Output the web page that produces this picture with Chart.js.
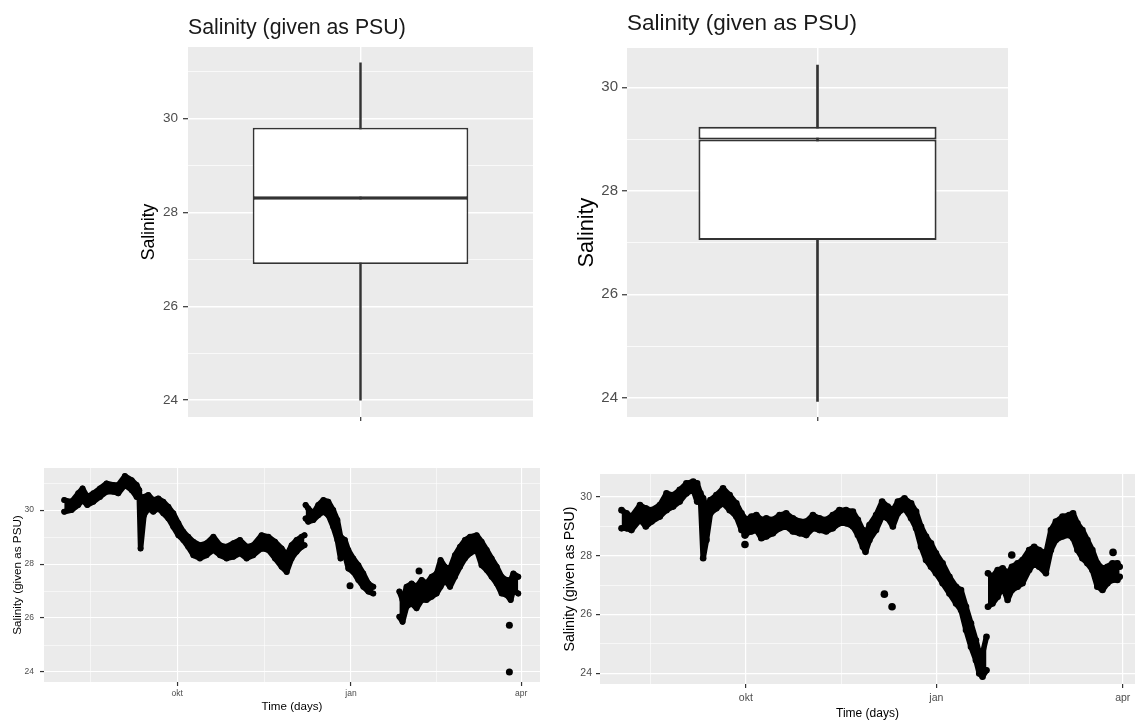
<!DOCTYPE html>
<html>
<head>
<meta charset="utf-8">
<title>Salinity</title>
<script src="https://cdn.jsdelivr.net/npm/chart.js@4.4.1/dist/chart.umd.min.js"></script>
<style>
  html, body { margin: 0; padding: 0; background: #ffffff; overflow: hidden; }
  #page { position: relative; width: 1139px; height: 724px; }
  canvas { position: absolute; }
</style>
</head>
<body>
<div id="page">
  <canvas id="boxLeft" width="430" height="440" style="left:120px;top:0px"></canvas>
  <canvas id="boxRight" width="579" height="440" style="left:560px;top:0px"></canvas>
  <canvas id="seriesLeft" width="560" height="284" style="left:0px;top:440px"></canvas>
  <canvas id="seriesRight" width="579" height="284" style="left:560px;top:440px"></canvas>
</div>
<script>
// Box plot summaries: [min, q1, median, q3, max]
const leftBoxStats = [24.0, 26.90, 28.31, 29.81, 31.19];
const rightBoxStats = [23.93, 27.05, 28.99, 29.24, 30.43];
const boxCategory = [''];

// Salinity axis ticks (labelled / unlabelled)
const salinityMajor = [24, 26, 28, 30];
const salinityMinor = [25, 27, 29, 31];

// Time axis, in days counted from 1 January
const monthTickDays = [-92, 0, 90];
const monthTickLabels = ['okt', 'jan', 'apr'];
const midTickDays = [-138, -46, 45];

// Logger 1: upper and lower edge of the readings per day (null = no data)
const leftDays = [
  -151.7, -147.8, -144.3, -142.0, -139.5, -136.3, -132.8, -129.3, -125.7, -123.1,
  -119.6, -116.0, -113.4, -112.0, -111.3, -109.5, -107.2, -104.6, -101.9, -99.3,
  -96.6, -94.0, -91.3, -88.7, -86.1, -83.4, -79.9, -76.4, -72.8, -69.3,
  -65.8, -62.2, -58.7, -55.2, -51.7, -47.3, -43.7, -40.2, -36.7, -34.0,
  -31.4, -28.8, -26.1, -24.6, -24.3, -24.0, -22.6, -19.9, -17.3, -14.6,
  -12.0, -9.4, -7.2, -5.5, -3.2, -1.4, 1.2, 3.9, 6.5, 9.2,
  11.8, 18.0, 25.6, 27.3, 29.4, 32.1, 34.7, 37.4, 40.0, 42.7,
  45.3, 47.4, 49.7, 52.4, 55.0, 57.7, 60.3, 63.0, 66.5, 69.1,
  71.8, 74.4, 77.1, 79.7, 82.4, 84.5, 85.9, 88.5
];
const leftHigh = [
  30.37, 30.31, 30.62, 30.80, 30.49, 30.62, 30.80, 30.99, 30.93, 30.93,
  31.26, 31.11, 30.93, 30.74, 30.12, 30.49, 30.56, 30.37, 30.43, 30.31,
  30.12, 29.88, 29.51, 29.20, 29.01, 28.83, 28.70, 28.77, 29.01, 28.70,
  28.64, 28.77, 28.89, 28.64, 28.70, 29.07, 29.01, 28.83, 28.58, 28.33,
  28.70, 28.89, 29.01, 29.07, null, 30.19, 30.06, 29.88, 30.19, 30.37,
  30.31, 30.00, 29.63, 29.01, 28.89, 28.52, 28.21, 27.96, 27.65, 27.28,
  27.16, null, 26.98, 26.67, 27.16, 27.28, 27.16, 27.41, 27.28, 27.53,
  27.65, 28.15, 27.90, 27.84, 28.33, 28.64, 28.89, 29.01, 29.07, 28.83,
  28.52, 28.21, 27.90, 27.53, 27.41, 27.41, 27.65, 27.53
];
const leftLow = [
  29.94, 30.00, 30.19, 30.37, 30.19, 30.31, 30.49, 30.68, 30.68, 30.62,
  30.93, 30.74, 30.49, 30.49, 28.58, 29.81, 30.06, 29.94, 30.06, 29.88,
  29.69, 29.38, 29.07, 28.89, 28.64, 28.33, 28.21, 28.33, 28.52, 28.33,
  28.21, 28.27, 28.40, 28.21, 28.33, 28.58, 28.52, 28.21, 27.90, 27.71,
  28.21, 28.46, 28.64, 28.70, null, 29.69, 29.57, 29.63, 29.81, 29.94,
  29.81, 29.38, 28.89, 28.21, 28.33, 27.84, 27.71, 27.41, 27.16, 26.98,
  26.91, null, 26.05, 25.86, 26.42, 26.54, 26.36, 26.67, 26.67, 26.79,
  26.91, 27.16, 27.41, 27.16, 27.53, 27.90, 28.21, 28.40, 28.52, 27.96,
  27.78, 27.53, 27.28, 26.91, 26.85, 26.67, 27.04, 26.91
];
const leftSingleDays = [-0.5, 36.0, 83.8, 83.8];
const leftSingleValues = [27.20, 27.74, 25.73, 24.00];

// Logger 2
const rightDays = [
  -152.0, -149.6, -147.2, -143.1, -140.3, -137.5, -133.5, -130.3, -127.1, -123.9,
  -120.7, -117.4, -115.5, -113.9, -112.6, -111.0, -109.1, -106.2, -103.0, -99.8,
  -96.6, -94.1, -91.7, -89.3, -86.9, -84.5, -82.1, -78.9, -75.7, -72.5,
  -69.3, -66.0, -62.8, -59.6, -56.4, -53.2, -50.0, -46.8, -43.6, -40.3,
  -37.9, -35.5, -34.2, -32.3, -29.1, -26.2, -23.5, -21.0, -18.6, -15.4,
  -12.2, -9.8, -7.4, -5.0, -2.6, -0.2, 3.0, 6.3, 9.5, 11.9,
  14.3, 16.7, 19.1, 20.7, 22.3, 24.2, 24.5, 24.9, 27.1, 29.6,
  32.0, 34.4, 36.5, 39.2, 41.6, 44.8, 47.2, 49.6, 52.9, 55.3,
  57.7, 60.9, 64.1, 66.0, 68.1, 70.5, 72.9, 75.3, 77.7, 80.2,
  82.6, 85.0, 87.4, 88.5
];
const rightHigh = [
  29.55, 29.44, 29.33, 29.72, 29.61, 29.55, 29.72, 30.12, 30.06, 30.24,
  30.46, 30.52, 30.46, 30.12, 29.95, 29.67, 29.89, 30.06, 30.29, 30.06,
  29.78, 29.44, 29.22, 29.33, 29.38, 29.22, 29.27, 29.22, 29.38, 29.44,
  29.27, 29.16, 29.16, 29.38, 29.27, 29.22, 29.38, 29.55, 29.55, 29.50,
  29.22, 28.87, 28.76, 29.04, 29.38, 29.84, 29.67, 29.55, 29.84, 29.95,
  29.78, 29.50, 28.99, 28.65, 28.42, 28.08, 27.74, 27.28, 26.94, 26.83,
  26.26, 25.70, 25.12, 24.67, 24.67, 25.24, null, 27.40, 27.28, 27.51,
  27.57, 27.40, 27.62, 27.74, 27.85, 28.19, 28.30, 28.19, 28.08, 28.87,
  29.16, 29.33, 29.38, 29.44, 29.10, 28.87, 28.53, 28.19, 27.74, 27.57,
  27.62, 27.74, 27.74, 27.62
];
const rightLow = [
  28.93, 28.93, 28.87, 29.22, 28.99, 29.16, 29.33, 29.55, 29.67, 29.84,
  30.12, 30.24, 29.84, 29.95, 27.91, 28.53, 29.44, 29.61, 29.78, 29.55,
  29.33, 28.87, 28.76, 28.82, 28.87, 28.59, 28.65, 28.76, 28.93, 28.99,
  28.82, 28.76, 28.70, 28.93, 28.87, 28.82, 28.93, 29.10, 29.10, 28.99,
  28.70, 28.30, 28.13, 28.53, 28.87, 29.33, 29.27, 28.99, 29.44, 29.61,
  29.27, 28.93, 28.30, 27.85, 27.62, 27.40, 27.06, 26.71, 26.37, 26.15,
  25.47, 24.90, 24.44, 23.99, 23.88, 24.10, null, 26.26, 26.37, 26.60,
  26.94, 26.49, 26.83, 26.94, 27.06, 27.51, 27.74, 27.62, 27.40, 28.19,
  28.53, 28.65, 28.70, 28.59, 28.19, 27.91, 27.74, 27.51, 26.94, 26.83,
  27.06, 27.17, 27.17, 27.28
];
const rightSingleDays = [-92.4, -92.4, -25.1, -21.4, 36.4, 85.3];
const rightSingleValues = [28.70, 28.38, 26.69, 26.26, 28.02, 28.11];

const FONT = "'Liberation Sans', Arial, Helvetica, sans-serif";
const INK = '#333333';
const TICK_TEXT = '#4d4d4d';

// grey panel behind the plot area, plus a left-aligned title over it
const panelPlugin = {
  id: 'panel',
  defaults: { background: '#ebebeb', title: '', titleSize: 20, titleBaseline: 30 },
  beforeDraw(chart, args, opts) {
    const { ctx, chartArea: a } = chart;
    ctx.save();
    ctx.fillStyle = opts.background;
    ctx.fillRect(a.left, a.top, a.right - a.left, a.bottom - a.top);
    ctx.restore();
  },
  afterDraw(chart, args, opts) {
    if (!opts.title) return;
    const { ctx, chartArea: a } = chart;
    ctx.save();
    ctx.font = opts.titleSize + 'px ' + FONT;
    ctx.fillStyle = '#1a1a1a';
    ctx.textBaseline = 'alphabetic';
    ctx.textAlign = 'left';
    ctx.fillText(opts.title, a.left, opts.titleBaseline);
    ctx.restore();
  }
};
Chart.register(panelPlugin);

Chart.defaults.animation = false;
Chart.defaults.responsive = false;
Chart.defaults.plugins.legend.display = false;
Chart.defaults.plugins.tooltip.enabled = false;
Chart.defaults.font.family = FONT;

function points(xs, ys) {
  return xs.map((x, i) => ({ x: x, y: ys[i] }));
}

function salinityAxis(min, max, o) {
  const isMajor = v => salinityMajor.includes(v);
  return {
    type: 'linear',
    min: min,
    max: max,
    afterFit: s => { s.width = o.width; },
    afterBuildTicks: s => {
      s.ticks = salinityMajor.concat(salinityMinor)
        .filter(v => v >= min && v <= max)
        .sort((a, b) => a - b)
        .map(v => ({ value: v }));
    },
    border: { display: false },
    grid: {
      color: '#ffffff',
      lineWidth: c => (c.tick && isMajor(c.tick.value)) ? o.major : o.minor,
      tickColor: c => (c.tick && isMajor(c.tick.value)) ? INK : 'rgba(0,0,0,0)',
      tickLength: o.tickLength,
      tickWidth: 1.2
    },
    ticks: {
      autoSkip: false,
      padding: o.pad,
      color: TICK_TEXT,
      font: { size: o.tickSize },
      callback: v => isMajor(v) ? String(v) : ''
    },
    title: {
      display: true,
      text: o.title,
      color: '#000000',
      font: { size: o.titleSize, lineHeight: 1 },
      padding: { top: o.titlePad, bottom: 0 }
    }
  };
}

function timeAxis(min, max, o) {
  const isMajor = v => monthTickDays.includes(v);
  return {
    type: 'linear',
    min: min,
    max: max,
    afterFit: s => { s.height = o.height; },
    afterBuildTicks: s => {
      s.ticks = monthTickDays.concat(midTickDays)
        .filter(v => v >= min && v <= max)
        .sort((a, b) => a - b)
        .map(v => ({ value: v }));
    },
    border: { display: false },
    grid: {
      color: '#ffffff',
      lineWidth: c => (c.tick && isMajor(c.tick.value)) ? o.major : o.minor,
      tickColor: c => (c.tick && isMajor(c.tick.value)) ? INK : 'rgba(0,0,0,0)',
      tickLength: 4,
      tickWidth: 1.2
    },
    ticks: {
      autoSkip: false,
      maxRotation: 0,
      padding: o.pad,
      color: TICK_TEXT,
      font: { size: o.tickSize },
      callback: v => {
        const i = monthTickDays.indexOf(v);
        return i >= 0 ? monthTickLabels[i] : '';
      }
    },
    title: {
      display: true,
      text: 'Time (days)',
      color: '#000000',
      font: { size: o.titleSize, lineHeight: 1 },
      padding: { top: 0, bottom: o.titlePad }
    }
  };
}

function boxChart(id, stats, yMin, yMax, o) {
  const [lo, q1, med, q3, hi] = stats;
  const boxStyle = {
    backgroundColor: '#ffffff',
    borderColor: INK,
    borderWidth: o.edge,
    borderSkipped: false,
    grouped: false,
    categoryPercentage: 1,
    barPercentage: 0.625
  };
  return new Chart(document.getElementById(id), {
    type: 'bar',
    data: {
      labels: boxCategory,
      datasets: [
        // upper and lower half of the box; their shared edge gives the heavier median line
        Object.assign({ data: [[med, q3]], order: 1 }, boxStyle),
        Object.assign({ data: [[q1, med]], order: 2 }, boxStyle),
        {
          data: [[lo, hi]],
          backgroundColor: INK,
          barThickness: o.edge,
          grouped: false,
          order: 3
        }
      ]
    },
    options: {
      layout: { padding: o.padding },
      plugins: {
        panel: { title: 'Salinity (given as PSU)', titleSize: o.headSize, titleBaseline: o.headBaseline }
      },
      scales: {
        x: {
          afterFit: s => { s.height = o.xHeight; },
          border: { display: false },
          grid: { color: '#ffffff', lineWidth: o.major, offset: false, tickColor: INK, tickLength: 4, tickWidth: 1.2 },
          ticks: { padding: 0, font: { size: 1 } }
        },
        y: salinityAxis(yMin, yMax, o)
      }
    }
  });
}

function seriesChart(id, days, high, low, singleDays, singleValues, xMax, yMax, o) {
  const band = {
    borderColor: '#000000',
    borderWidth: o.line,
    borderJoinStyle: 'round',
    borderCapStyle: 'round',
    pointRadius: o.dot - 0.5,
    pointBackgroundColor: '#000000',
    pointBorderWidth: 0,
    tension: 0,
    spanGaps: false
  };
  return new Chart(document.getElementById(id), {
    type: 'line',
    data: {
      datasets: [
        Object.assign({ data: points(days, high), fill: false }, band),
        Object.assign({ data: points(days, low), fill: '-1', backgroundColor: '#000000' }, band),
        {
          data: points(singleDays, singleValues),
          showLine: false,
          pointRadius: o.dot,
          pointBackgroundColor: '#000000',
          pointBorderWidth: 0
        }
      ]
    },
    options: {
      layout: { padding: o.padding },
      scales: {
        x: timeAxis(-162.4, xMax, o.x),
        y: salinityAxis(23.63, yMax, o.y)
      }
    }
  });
}

boxChart('boxLeft', leftBoxStats, 23.64, 31.53, {
  padding: { left: 0, top: 47, right: 17, bottom: 0 },
  headSize: 21.3, headBaseline: 33.5, edge: 1.8,
  xHeight: 23, width: 68, major: 1.4, minor: 0.7,
  tickLength: 5, pad: 5, tickSize: 13.5,
  title: 'Salinity', titleSize: 17.6, titlePad: 20
});

boxChart('boxRight', rightBoxStats, 23.63, 30.76, {
  padding: { left: 0, top: 48, right: 131, bottom: 0 },
  headSize: 22.5, headBaseline: 29.5, edge: 2,
  xHeight: 23, width: 67, major: 1.5, minor: 0.75,
  tickLength: 5, pad: 4, tickSize: 15,
  title: 'Salinity', titleSize: 21.7, titlePad: 16
});

seriesChart('seriesLeft', leftDays, leftHigh, leftLow, leftSingleDays, leftSingleValues, 100, 31.56, {
  padding: { left: 0, top: 28, right: 20, bottom: 0 },
  line: 5.5, dot: 3.5,
  x: { height: 42, major: 1.1, minor: 0.55, pad: 2.9, tickSize: 8.5, titleSize: 11.6, titlePad: 11.2 },
  y: { width: 44, major: 1.1, minor: 0.55, tickLength: 4, pad: 6, tickSize: 8.5, title: 'Salinity (given as PSU)', titleSize: 11.7, titlePad: 11.6 }
});

seriesChart('seriesRight', rightDays, rightHigh, rightLow, rightSingleDays, rightSingleValues, 95.9, 30.78, {
  padding: { left: 0, top: 34, right: 3, bottom: 0 },
  line: 5.5, dot: 3.8,
  x: { height: 40, major: 1.2, minor: 0.6, pad: 3.4, tickSize: 10.5, titleSize: 12, titlePad: 4 },
  y: { width: 40, major: 1.2, minor: 0.6, tickLength: 4, pad: 4, tickSize: 10.5, title: 'Salinity (given as PSU)', titleSize: 14.2, titlePad: 2.9 }
});
</script>
</body>
</html>
